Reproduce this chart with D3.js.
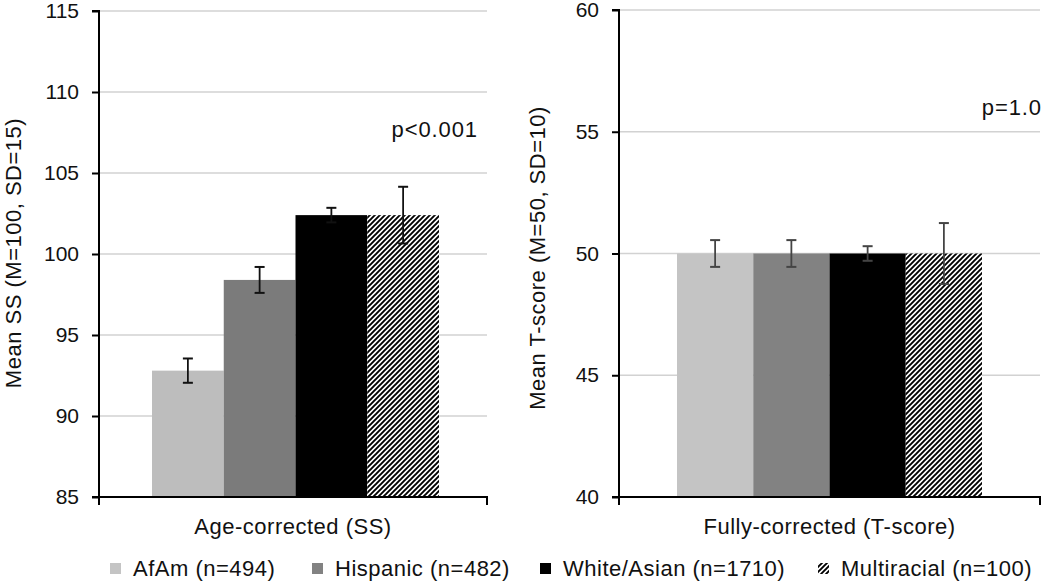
<!DOCTYPE html>
<html><head><meta charset="utf-8">
<script src="https://cdn.jsdelivr.net/npm/d3@7"></script>
<style>body{margin:0;background:#fff}svg{display:block}text{font-family:"Liberation Sans",Arial,sans-serif;fill:#111}</style>
</head><body><svg id="c" width="1050" height="585"></svg>
<script>
const groups = ["AfAm (n=494)", "Hispanic (n=482)", "White/Asian (n=1710)", "Multiracial (n=100)"];
const ssMeans = [92.8, 98.4, 102.4, 102.4];
const ssErr = [0.75, 0.8, 0.45, 1.75];
const tMeans = [50.0, 50.0, 50.0, 50.0];
const tErr = [0.55, 0.55, 0.3, 1.25];
const ssTicks = [85, 90, 95, 100, 105, 110, 115];
const tTicks = [40, 45, 50, 55, 60];

const FS = 21, LFS = 22, LS = 0.5;
const svg = d3.select("#c");
const defs = svg.append("defs");
const pat = defs.append("pattern").attr("id","hatch").attr("patternUnits","userSpaceOnUse")
  .attr("width",5).attr("height",5);
pat.append("rect").attr("width",5).attr("height",5).attr("fill","#fff");
pat.append("path").attr("d","M-1,6 L6,-1 M-1,1 L1,-1 M4,6 L6,4").attr("stroke","#000").attr("stroke-width",1.9);

const fills = ["#bdbdbd", "#7b7b7b", "#000", "url(#hatch)"];
const fillsR = ["#c4c4c4", "#828282", "#000", "url(#hatch)"];

function panel(cfg){
  const y = d3.scaleLinear().domain(cfg.domain).range([497, cfg.top]);
  const x = d3.scaleBand().domain(groups).range(cfg.barRange).paddingInner(0);
  const g = svg.append("g");
  g.selectAll(".grid").data(cfg.ticks.slice(1)).enter().append("line")
    .attr("x1", cfg.x0).attr("x2", cfg.x1).attr("y1", d=>y(d)).attr("y2", d=>y(d))
    .attr("stroke","#d2d2d2").attr("stroke-width",1.5);
  g.selectAll(".bar").data(groups).enter().append("rect")
    .attr("x", d=>x(d)).attr("width", x.bandwidth())
    .attr("y", (d,i)=>y(cfg.means[i])).attr("height", (d,i)=>497 - y(cfg.means[i]))
    .attr("fill", (d,i)=>cfg.fills[i]);
  groups.forEach((d,i)=>{
    const cx = x(d) + x.bandwidth()/2;
    const hi = y(cfg.means[i]+cfg.err[i]), lo = y(cfg.means[i]-cfg.err[i]);
    g.append("line").attr("x1",cx).attr("x2",cx).attr("y1",hi).attr("y2",lo).attr("stroke",cfg.errColor).attr("stroke-width",1.8);
    [hi,lo].forEach(v=>g.append("line").attr("x1",cx-5).attr("x2",cx+5).attr("y1",v).attr("y2",v).attr("stroke",cfg.errColor).attr("stroke-width",2));
  });
  const ya = d3.axisLeft(y).tickValues(cfg.ticks).tickSize(7).tickPadding(13).tickFormat(d3.format("d"));
  const yg = g.append("g").attr("transform",`translate(${cfg.x0},0)`).call(ya);
  yg.attr("font-size", null).attr("font-family", null);
  yg.select(".domain").attr("stroke","#000").attr("stroke-width",2).attr("d",`M-7,${cfg.top}H0V497H-7`);
  yg.selectAll(".tick line").attr("stroke","#000").attr("stroke-width",2);
  yg.selectAll(".tick text").attr("font-size",FS).style("fill","#111");
  g.append("path").attr("d",`M${cfg.x0},497H${cfg.x1}V505M${cfg.x0},497V505`).attr("fill","none").attr("stroke","#000").attr("stroke-width",2);
  g.append("text").attr("x",(cfg.x0+cfg.x1)/2).attr("y",534).attr("text-anchor","middle").attr("font-size",LFS).attr("letter-spacing",LS).text(cfg.xlabel);
  g.append("text").attr("transform",`translate(${cfg.ylx},${cfg.yly}) rotate(-90)`).attr("text-anchor","middle").attr("font-size",LFS).attr("letter-spacing",LS).text(cfg.ylabel);
  g.append("text").attr("x",cfg.px).attr("y",cfg.py).attr("text-anchor","end").attr("font-size",LFS).attr("letter-spacing",0.9).text(cfg.ptext);
}

panel({domain:[85,115], ticks:ssTicks, top:11, x0:99, x1:487, barRange:[152,439], means:ssMeans, err:ssErr, fills:fills,
  errColor:"#111", xlabel:"Age-corrected (SS)", ylabel:"Mean SS (M=100, SD=15)", ylx:21, yly:253, px:478, py:137, ptext:"p<0.001"});
panel({domain:[40,60], ticks:tTicks, top:10, x0:619, x1:1040, barRange:[677,982], means:tMeans, err:tErr, fills:fillsR,
  errColor:"#444", xlabel:"Fully-corrected (T-score)", ylabel:"Mean T-score (M=50, SD=10)", ylx:545, yly:258, px:1042, py:115, ptext:"p=1.0"});

const legX = [110, 312, 540, 818];
const lg = svg.append("g");
groups.forEach((d,i)=>{
  lg.append("rect").attr("x",legX[i]).attr("y",563).attr("width",11).attr("height",11).attr("fill", i===3 ? "url(#hatch)" : ["#c4c4c4","#828282","#000"][i]);
  lg.append("text").attr("x",legX[i]+23).attr("y",576).attr("font-size",LFS).attr("letter-spacing",LS).text(d);
});
</script></body></html>
